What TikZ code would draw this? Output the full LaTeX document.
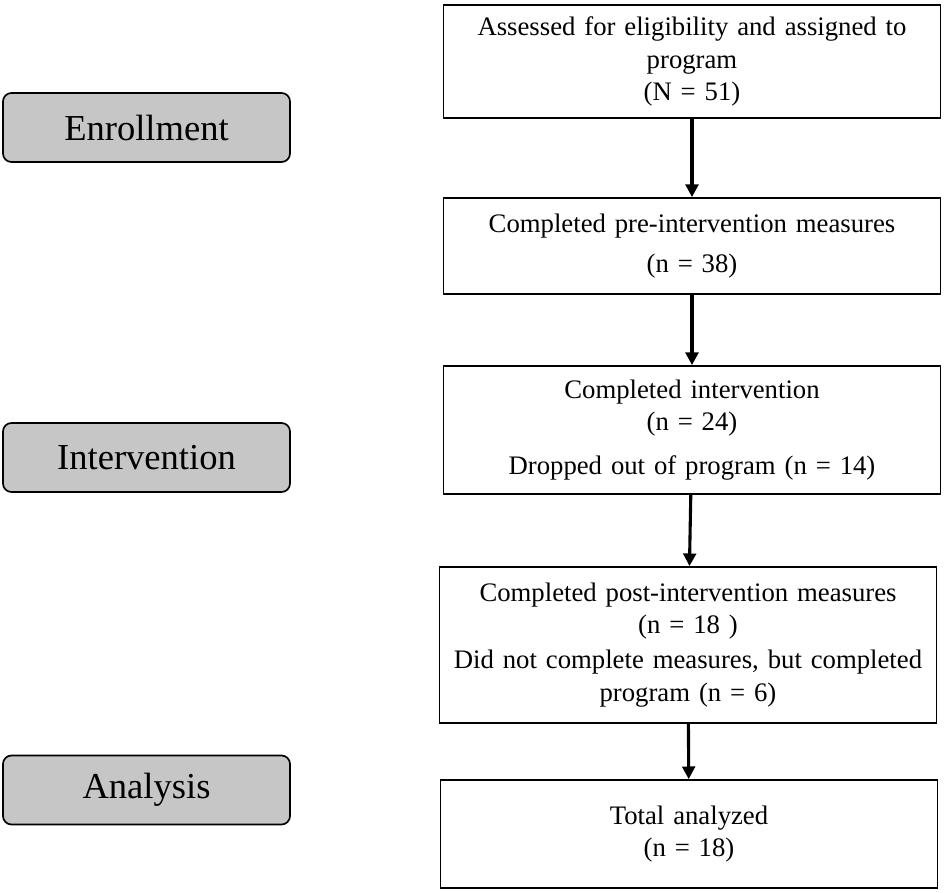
\documentclass[tikz,border=0pt]{standalone}
\usepackage{fontspec}
\setmainfont{Liberation Serif}
\usetikzlibrary{arrows.meta,positioning}

\begin{document}
\begin{tikzpicture}[x=0.025cm, y=-0.025cm,
    flowbox/.style={
        rectangle,
        draw,
        line width=1.2pt,
        fill=white,
        minimum width=497*0.025cm,
        text width=470*0.025cm,
        align=center,
        inner sep=0pt,
        font=\fontsize{19}{23}\selectfont
    },
    stagebox/.style={
        rectangle,
        rounded corners=6pt,
        draw,
        line width=1.2pt,
        fill=gray!45,
        minimum width=287*0.025cm,
        minimum height=69*0.025cm,
        font=\fontsize{26}{30}\selectfont
    },
    flowarrow/.style={-{Triangle[length=9pt,width=9pt]}, line width=2.2pt}
]

    \useasboundingbox (0,0) rectangle (950,893);

    % stages on the left
    \node (enrollment) [stagebox] at (146.5, 127.5) {Enrollment};
    \node (intervention) [stagebox] at (146.5, 457.5) {Intervention};
    \node (analysis) [stagebox] at (146.5, 790) {Analysis};

    % flow on the right
    \node (assessed) [flowbox, minimum height=113*0.025cm] at (692, 61.5)
    {
        Assessed for eligibility and assigned to\\ program\\ (N = 51)
    };

    \node (pre_measures) [flowbox, minimum height=96*0.025cm] at (692, 246)
    {
        Completed pre-intervention measures\\[6pt] (n = 38)
    };

    \node (completed_intervention) [flowbox, minimum height=128*0.025cm] at (692, 430)
    {
        Completed intervention\\ (n = 24)\\[8pt] Dropped out of program (n = 14)
    };

    \node (post_measures) [flowbox, minimum height=156*0.025cm] at (688, 645)
    {
        Completed post-intervention measures\\ (n = 18 )\\[2pt] Did not complete measures, but completed\\ program (n = 6)
    };

    \node (total_analyzed) [flowbox, minimum height=108*0.025cm] at (689, 834)
    {
        Total analyzed\\ (n = 18)
    };

    \draw[flowarrow] (assessed) to (pre_measures);
    \draw[flowarrow] (pre_measures) to (completed_intervention);
    \draw[flowarrow] (completed_intervention) to (post_measures);
    \draw[flowarrow] (post_measures) to (total_analyzed);

\end{tikzpicture}
\end{document}
